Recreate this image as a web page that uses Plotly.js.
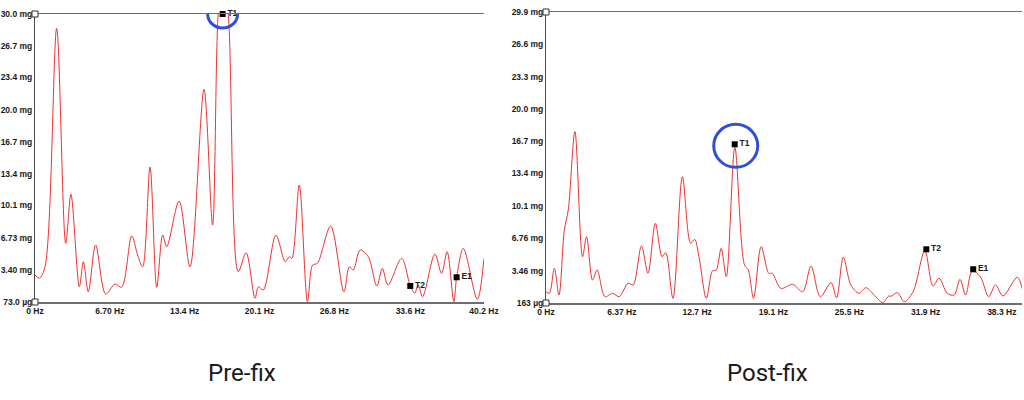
<!DOCTYPE html>
<html><head><meta charset="utf-8">
<script src="https://cdn.plot.ly/plotly-3.0.1.min.js"></script>
<style>html,body{margin:0;padding:0;background:#fff;}#chart{width:1024px;height:400px;}</style>
</head><body><div id="chart"></div>
<script>
// ---- Pre-fix spectrum (Hz, mg) ----
var preHz = [0,0.39,0.9,1.94,2.75,3.22,3.97,4.33,4.77,5.43,6.33,7.16,7.76,8.66,9.19,9.64,10.3,10.9,11.43,11.79,12.9,13.88,15.13,15.9,16.4,16.8,17.3,18.2,18.9,19.7,20.0,20.44,21.57,22.4,22.77,23.0,23.66,24.4,24.86,25.28,26.47,27.66,28.14,28.5,29.1,29.84,30.6,31.1,31.6,32.83,33.6,34.0,34.3,34.7,35.8,36.4,36.9,37.5,37.75,38.35,39.6,40.2];
var preMg = [2.88,2.54,3.74,28.5,6.17,11.26,1.66,4.26,1.14,5.99,0.90,1.94,1.60,6.93,4.96,3.74,14.1,1.6,7.03,5.82,10.57,3.74,22.17,8.07,30.0,34.0,30.0,3.22,5.2,0.46,1.66,1.32,7.03,4.26,4.78,4.6,12.23,0.1,3.92,4.09,7.97,1.14,3.74,3.40,5.48,4.78,1.74,3.57,1.84,4.61,1.74,0.98,1.84,0.62,5.06,3.05,5.3,0.1,2.64,5.65,0.35,4.61];
var preMarkHz = [16.8, 33.6, 37.75];
var preMarkMg = [30.0, 1.74, 2.64];
var preMarkTxt = ['T1','T2','E1'];
var preYVals = [0.073,3.40,6.73,10.1,13.4,16.7,20.0,23.4,26.7,30.0];
var preYText = ['73.0 µg','3.40 mg','6.73 mg','10.1 mg','13.4 mg','16.7 mg','20.0 mg','23.4 mg','26.7 mg','30.0 mg'];
var preXVals = [0,6.70,13.4,20.1,26.8,33.6,40.2];
var preXText = ['0 Hz','6.70 Hz','13.4 Hz','20.1 Hz','26.8 Hz','33.6 Hz','40.2 Hz'];

// ---- Post-fix spectrum (Hz, mg) ----
var postHz = [0,0.28,0.7,1.09,1.54,1.87,2.43,3.07,3.41,3.91,4.3,4.95,5.59,6.15,6.9,7.32,8.02,8.57,9.19,9.75,10.06,10.67,11.46,12.15,12.49,12.9,13.47,14.0,14.3,14.72,15.15,15.87,16.68,17.0,17.44,18.08,18.72,19.0,19.75,20.73,21.57,22.27,23.05,23.95,24.42,24.98,25.62,26.3,26.88,27.58,28.3,28.8,29.0,29.53,30.1,30.85,31.83,32.52,33.03,33.72,34.3,34.79,35.26,35.82,36.5,37.2,37.78,38.4,39.6,40.05];
var postMg = [1.32,1.15,3.71,0.98,7.62,9.67,17.67,4.9,6.94,2.51,3.54,0.81,1.15,0.81,2.18,2.0,5.99,3.2,8.31,4.9,5.3,0.64,13.07,6.26,6.67,4.56,0.64,3.46,3.5,5.75,2.85,16.07,4.05,3.54,0.64,5.92,3.2,3.2,1.66,2.07,1.32,3.94,0.81,2.24,0.7,4.83,2.0,1.15,1.73,0.98,0.2,0.88,0.85,1.22,0.3,1.32,5.51,1.9,2.69,1.15,0.98,2.58,0.98,3.46,2.85,0.81,2.0,0.88,2.79,1.49];
var postMarkHz = [15.86, 31.96, 35.9];
var postMarkMg = [16.38, 5.65, 3.61];
var postMarkTxt = ['T1','T2','E1'];
var postYVals = [0.163,3.46,6.76,10.1,13.4,16.7,20.0,23.3,26.6,29.9];
var postYText = ['163 µg','3.46 mg','6.76 mg','10.1 mg','13.4 mg','16.7 mg','20.0 mg','23.3 mg','26.6 mg','29.9 mg'];
var postXVals = [0,6.37,12.7,19.1,25.5,31.9,38.3];
var postXText = ['0 Hz','6.37 Hz','12.7 Hz','19.1 Hz','25.5 Hz','31.9 Hz','38.3 Hz'];

var panelTitles = ['Pre-fix','Post-fix'];

var red = '#f03030';
var tickFont = {family:'Liberation Sans, Arial, sans-serif', size:8.5, color:'#1a1a1a', weight:'bold'};
var markFont = {family:'Liberation Sans, Arial, sans-serif', size:8.5, color:'#1a1a1a', weight:'bold'};

var traces = [
  {x:preHz, y:preMg, xaxis:'x', yaxis:'y', mode:'lines', line:{color:red, width:1, shape:'spline', smoothing:0.9}, hoverinfo:'skip'},
  {x:preMarkHz, y:preMarkMg, xaxis:'x', yaxis:'y', mode:'markers+text', text:preMarkTxt, textposition:'middle right', textfont:markFont, marker:{symbol:'square', size:6, color:'#000'}, cliponaxis:false},
  {x:postHz, y:postMg, xaxis:'x2', yaxis:'y2', mode:'lines', line:{color:red, width:1, shape:'spline', smoothing:0.9}, hoverinfo:'skip'},
  {x:postMarkHz, y:postMarkMg, xaxis:'x2', yaxis:'y2', mode:'markers+text', text:postMarkTxt, textposition:'middle right', textfont:markFont, marker:{symbol:'square', size:6, color:'#000'}, cliponaxis:false}
];

function xax(dom, vals, txt, rng){
  return {domain:dom, range:rng, tickmode:'array', tickvals:vals, ticktext:txt, tickfont:tickFont,
    showgrid:false, zeroline:false, showline:true, linecolor:'#6e6e6e', linewidth:1.5, mirror:true,
    ticks:'', ticklabelstandoff:0, fixedrange:true};
}
function yax(dom, vals, txt, rng, anchor){
  return {domain:dom, range:rng, tickmode:'array', tickvals:vals, ticktext:txt, tickfont:tickFont,
    showgrid:false, zeroline:false, showline:true, linecolor:'#4a4a4a', linewidth:1, anchor:anchor,
    ticks:'', ticklabelstandoff:0, fixedrange:true};
}

function cornerSquares(xr, yr){
  var s = [];
  ['bottom','top'].forEach(function(p){
    s.push({type:'rect', xref:xr+' domain', yref:yr+' domain', xsizemode:'pixel', ysizemode:'pixel',
      xanchor:0, yanchor:(p==='top'?1:0), x0:-3, x1:3, y0:-3, y1:3,
      line:{color:'#333', width:1}, fillcolor:'#fff'});
  });
  return s;
}

var shapes = [].concat(cornerSquares('x','y'), cornerSquares('x2','y2'));
shapes.push({type:'circle', xref:'x', yref:'y', xsizemode:'pixel', ysizemode:'pixel',
  xanchor:preMarkHz[0], yanchor:preMarkMg[0], x0:-15, x1:15, y0:-14, y1:14, line:{color:'#2f4fd6', width:3}});
shapes.push({type:'circle', xref:'x2', yref:'y2', xsizemode:'pixel', ysizemode:'pixel',
  xanchor:postMarkHz[0], yanchor:postMarkMg[0], x0:-21, x1:23, y0:-23, y1:20, line:{color:'#2f4fd6', width:3}});

var layout = {
  width:1024, height:400, margin:{l:0,r:0,t:0,b:0}, showlegend:false,
  paper_bgcolor:'#fff', plot_bgcolor:'#fff',
  xaxis: xax([35/1024, 484/1024], preXVals, preXText, [0, 40.2]),
  yaxis: yax([98/400, 386/400], preYVals, preYText, [0.073, 30.0], 'x'),
  xaxis2: xax([546/1024, 1022/1024], postXVals, postXText, [0, 40.0]),
  yaxis2: yax([97/400, 388/400], postYVals, postYText, [0.163, 29.9], 'x2'),
  shapes: shapes,
  annotations: [
    {text:panelTitles[0], xref:'paper', yref:'paper', x:242/1024, y:1-373/400, showarrow:false, xanchor:'center', yanchor:'middle', font:{family:'Roboto, Noto Sans, sans-serif', size:24, color:'#1a1a1a'}},
    {text:panelTitles[1], xref:'paper', yref:'paper', x:767/1024, y:1-373/400, showarrow:false, xanchor:'center', yanchor:'middle', font:{family:'Roboto, Noto Sans, sans-serif', size:24, color:'#1a1a1a'}}
  ]
};
layout.xaxis.anchor = 'y';
layout.xaxis2.anchor = 'y2';

Plotly.newPlot('chart', traces, layout, {staticPlot:true, displayModeBar:false});
</script></body></html>
